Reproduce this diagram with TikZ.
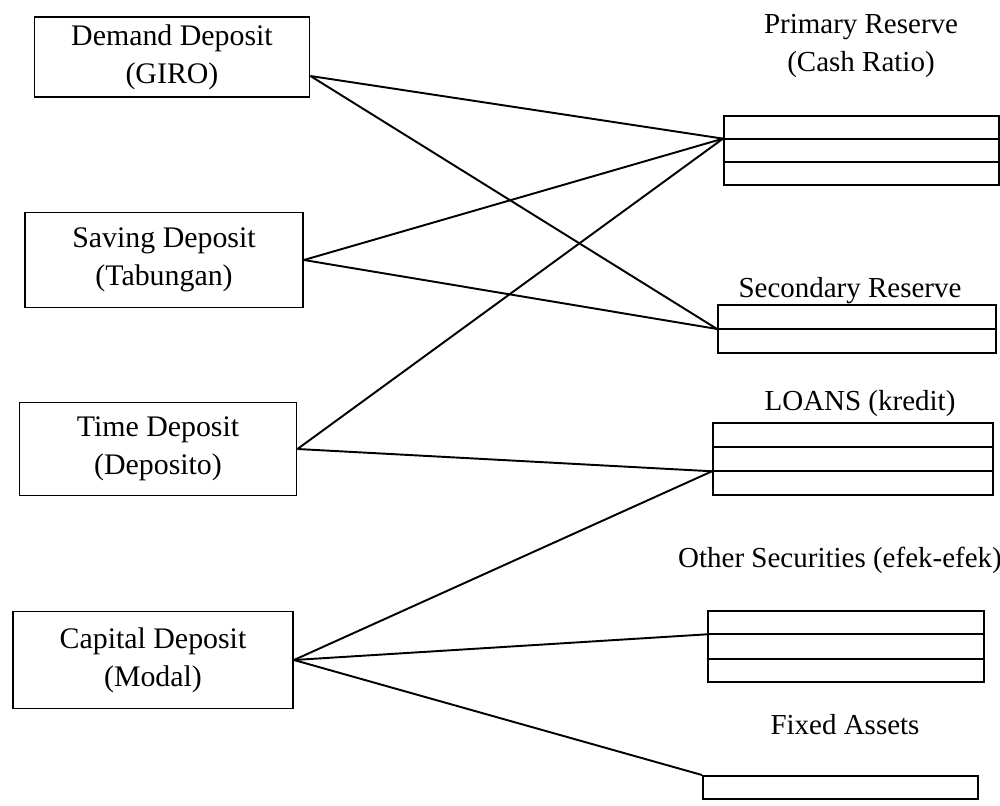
\documentclass[tikz,border=0pt]{standalone}
\usepackage{fontspec}
\setmainfont{Liberation Serif}
\usetikzlibrary{calc}

\begin{document}
\begin{tikzpicture}[x=0.02cm,y=-0.02cm,line width=1.1pt,
  font=\fontsize{17}{21.5}\selectfont,
  srcbox/.style={draw,align=center,inner sep=0pt},
  ledger/.style={draw,inner sep=0pt,anchor=north west},
  tag/.style={align=center,font=\fontsize{16.5}{21.5}\selectfont}]
\useasboundingbox (0,0) rectangle (1000,805);

% sources of funds
\node[srcbox,minimum width=5.5cm,minimum height=1.6cm] (gir) at (172,57) {Demand Deposit\\(GIRO)};
\node[srcbox,minimum width=5.56cm,minimum height=1.9cm] (tab) at (164,260) {Saving Deposit\\(Tabungan)};
\node[srcbox,minimum width=5.54cm,minimum height=1.86cm] (dep) at (158,449) {Time Deposit\\(Deposito)};
\node[srcbox,minimum width=5.6cm,minimum height=1.94cm] (mod) at (153,660) {Capital Deposit\\(Modal)};
\coordinate (gir-out) at ([yshift=-0.38cm]gir.east);

% uses of funds
\node[tag] (prim-lbl) at (861,46) {Primary Reserve\\(Cash Ratio)};
\node[ledger,minimum width=5.5cm,minimum height=1.38cm] (prim) at (723,115) {};
\node[tag] (sec-lbl) at (850,291) {Secondary Reserve};
\node[ledger,minimum width=5.56cm,minimum height=0.96cm] (sec) at (717,304) {};
\node[tag] (loan-lbl) at (860,404) {LOANS (kredit)};
\node[ledger,minimum width=5.6cm,minimum height=1.44cm] (loan) at (712,422) {};
\node[tag] (oth-lbl) at (840,560) {Other Securities (efek-efek)};
\node[ledger,minimum width=5.52cm,minimum height=1.42cm] (oth) at (707,610) {};
\node[tag] (fix-lbl) at (845,725) {Fixed Assets};
\node[ledger,minimum width=5.5cm,minimum height=0.46cm] (fix) at (702,775) {};

% row rules
\foreach \n/\r in {prim/3,sec/2,loan/3,oth/3}{
  \pgfmathtruncatemacro{\last}{\r-1}
  \foreach \k in {1,...,\last}{
    \draw ($(\n.north west)!\k/\r!(\n.south west)$) -- ($(\n.north east)!\k/\r!(\n.south east)$);}}

\coordinate (prim-in) at ($(prim.north west)!1/3!(prim.south west)$);
\coordinate (sec-in) at ($(sec.north west)!1/2!(sec.south west)$);
\coordinate (loan-in) at ($(loan.north west)!2/3!(loan.south west)$);
\coordinate (oth-in) at ($(oth.north west)!1/3!(oth.south west)$);

% allocation lines
\draw (gir-out) -- (prim-in);
\draw (gir-out) -- (sec-in);
\draw (tab.east) -- (prim-in);
\draw (tab.east) -- (sec-in);
\draw (dep.east) -- (prim-in);
\draw (dep.east) -- (loan-in);
\draw (mod.east) -- (loan-in);
\draw (mod.east) -- (oth-in);
\draw (mod.east) -- (fix.north west);
\end{tikzpicture}
\end{document}
